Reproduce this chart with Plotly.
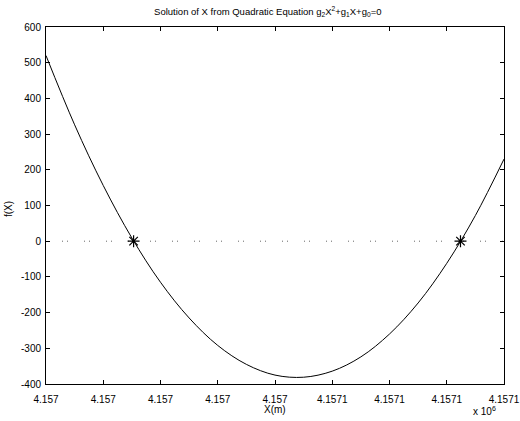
import plotly.graph_objects as go

# Curve samples (X in metres, f(X))
x_vals = [4157000, 4157005, 4157010, 4157015, 4157020, 4157025, 4157030, 4157035,
          4157040, 4157045, 4157050, 4157055, 4157060, 4157065, 4157070, 4157075, 4157080]
f_vals = [520, 326, 156, 9, -115, -215, -292, -345,
          -375, -381, -364, -324, -260, -173, -62, 72, 230]

# Roots (asterisk markers)
root_x = [4157015.3, 4157072.4]
root_y = [0, 0]

# Zero reference line
zero_x = [4157000, 4157080]
zero_y = [0, 0]

x_ticks = [4157000, 4157010, 4157020, 4157030, 4157040, 4157050, 4157060, 4157070, 4157080]
x_tick_labels = ["4.157", "4.157", "4.157", "4.157", "4.157", "4.1571", "4.1571", "4.1571", "4.1571"]
y_ticks = [-400, -300, -200, -100, 0, 100, 200, 300, 400, 500, 600]
y_tick_labels = ["-400", "-300", "-200", "-100", "0", "100", "200", "300", "400", "500", "600"]

FONT = "Liberation Sans, Arial, Helvetica, sans-serif"

fig = go.Figure()
fig.add_trace(go.Scatter(x=zero_x, y=zero_y, mode="lines",
                         line=dict(color="#666666", width=1, dash="0px,16px,1px,4px,1px,0px"),
                         showlegend=False, hoverinfo="skip"))
fig.add_trace(go.Scatter(x=x_vals, y=f_vals, mode="lines", line_shape="spline",
                         line=dict(color="black", width=1), showlegend=False))
fig.add_trace(go.Scatter(x=root_x, y=root_y, mode="markers",
                         marker=dict(symbol="asterisk-open", size=10, color="black",
                                     line=dict(color="black", width=1.2)),
                         showlegend=False))

fig.update_layout(
    width=520, height=421,
    margin=dict(l=46, r=16, t=27, b=37, autoexpand=False),
    paper_bgcolor="white", plot_bgcolor="white",
    font=dict(family=FONT, size=10, color="black"),
    title=dict(text="Solution of X from Quadratic Equation g<sub>2</sub>X<sup>2</sup>+g<sub>1</sub>X+g<sub>0</sub>=0",
               x=0.515, xanchor="center", xref="container", y=0.972, yanchor="middle",
               font=dict(family=FONT, size=9.5, color="black")),
    xaxis=dict(range=[x_ticks[0], x_ticks[-1]], tickvals=x_ticks, ticktext=x_tick_labels,
               ticks="inside", ticklen=4, tickcolor="black", showline=True, linecolor="black",
               linewidth=1, mirror="ticks", showgrid=False, zeroline=False, automargin=False,
               ticklabelstandoff=6),
    yaxis=dict(range=[-400, 600], tickvals=y_ticks, ticktext=y_tick_labels,
               ticks="inside", ticklen=4, tickcolor="black",
               showline=True, linecolor="black", linewidth=1, mirror="ticks",
               showgrid=False, zeroline=False, automargin=False, ticklabelstandoff=2),
    annotations=[
        dict(text="X(m)", xref="paper", yref="paper", x=0.5, y=-0.072,
             xanchor="center", yanchor="middle", showarrow=False,
             font=dict(family=FONT, size=10, color="black")),
        dict(text="f(X)", xref="paper", yref="paper", x=-0.083, y=0.49, textangle=-90,
             xanchor="center", yanchor="middle", showarrow=False,
             font=dict(family=FONT, size=10, color="black")),
        dict(text="x 10<sup>6</sup>", xref="paper", yref="paper", x=0.958, y=-0.075,
             xanchor="center", yanchor="middle", showarrow=False,
             font=dict(family=FONT, size=10, color="black")),
    ],
)

fig.write_html("out.html", config={"displayModeBar": False},
               post_script="document.body.style.margin='0';")
